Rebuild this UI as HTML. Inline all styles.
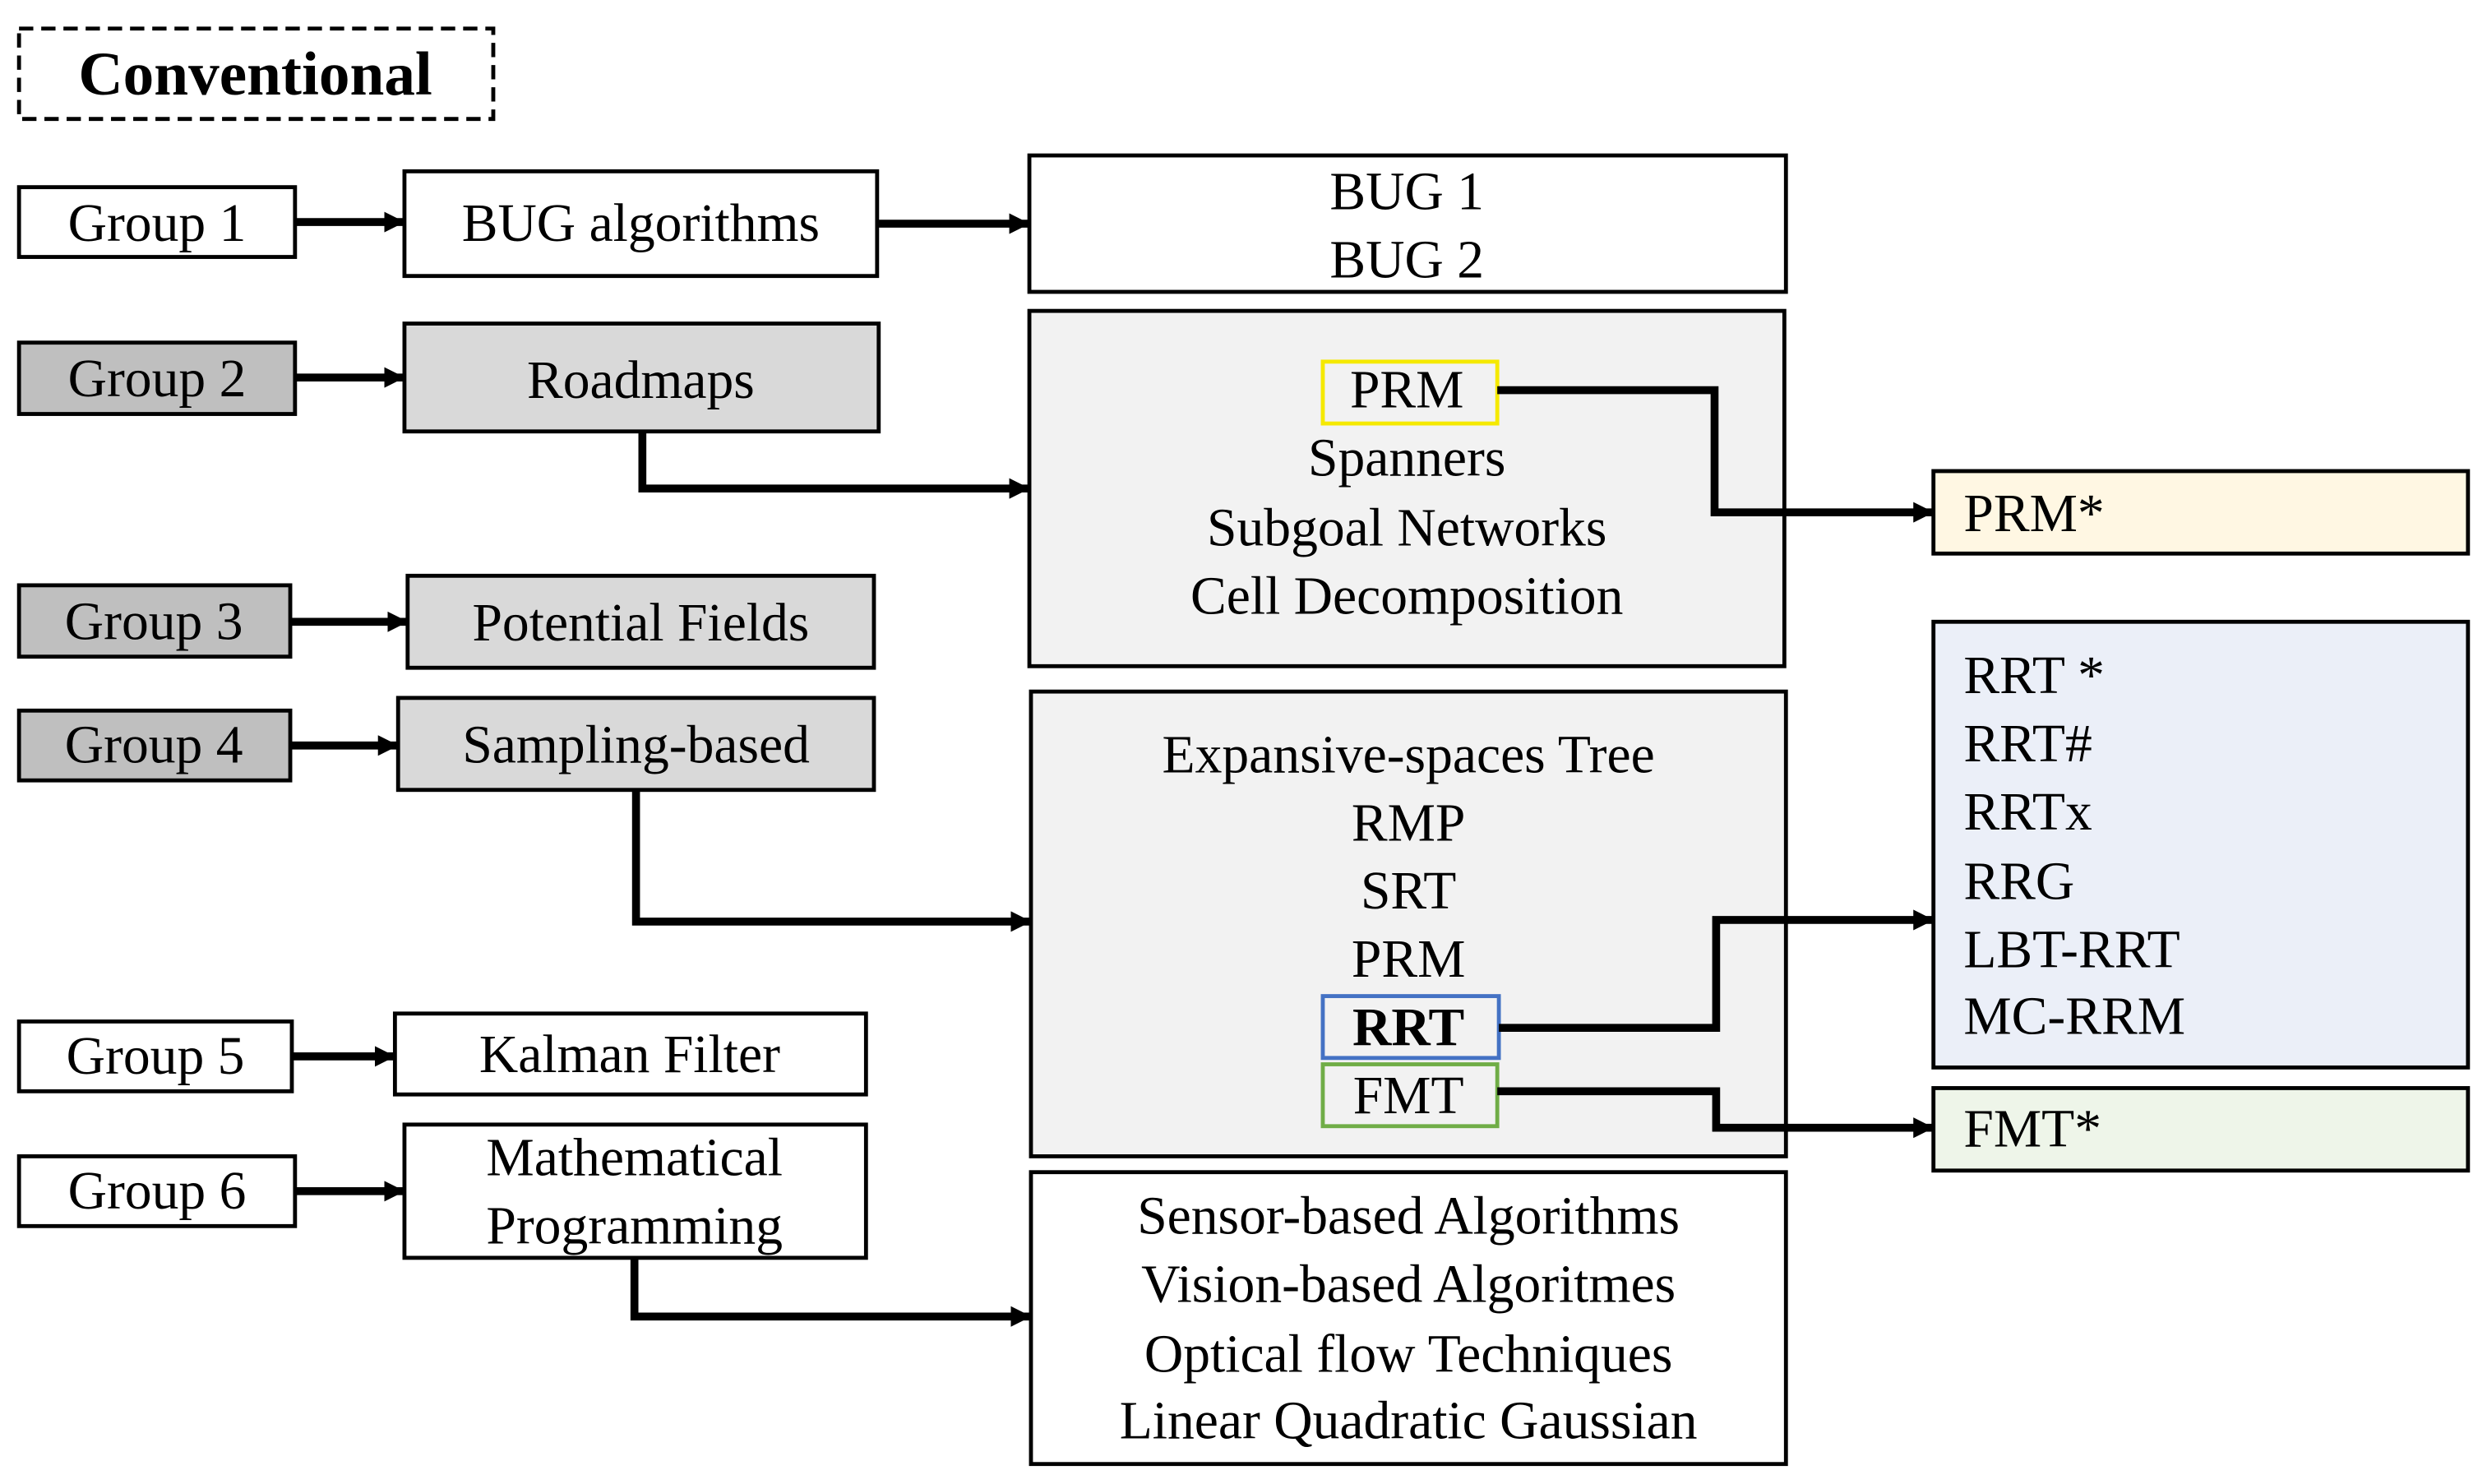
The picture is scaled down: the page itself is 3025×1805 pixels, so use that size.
<!DOCTYPE html>
<html><head><meta charset="utf-8"><style>
html,body{margin:0;padding:0;background:#fff}
svg{display:block}
text{font-family:"Liberation Serif","Times New Roman",serif;font-size:34px;fill:#000;dominant-baseline:central}
</style></head><body>
<svg width="3025" height="1805" viewBox="0 0 1568 935.6" preserveAspectRatio="none" xmlns="http://www.w3.org/2000/svg">
<defs><marker id="a" viewBox="0 0 10 10" refX="9" refY="5" markerWidth="2.6" markerHeight="2.6" orient="auto"><path d="M0,0L10,5L0,10z" fill="#000"/></marker></defs>
<g stroke="#000" stroke-width="2.5">
<rect x="12" y="18" width="299" height="57" fill="#fff" stroke-dasharray="9,5"/>
<rect x="12" y="118" width="174" height="44" fill="#fff"/>
<rect x="12" y="216" width="174" height="45" fill="#bfbfbf"/>
<rect x="12" y="369" width="171" height="45" fill="#bfbfbf"/>
<rect x="12" y="448" width="171" height="44" fill="#bfbfbf"/>
<rect x="12" y="644" width="172" height="44" fill="#fff"/>
<rect x="12" y="729" width="174" height="44" fill="#fff"/>
<rect x="255" y="108" width="298" height="66" fill="#fff"/>
<rect x="255" y="204" width="299" height="68" fill="#d9d9d9"/>
<rect x="257" y="363" width="294" height="58" fill="#d9d9d9"/>
<rect x="251" y="440" width="300" height="58" fill="#d9d9d9"/>
<rect x="249" y="639" width="297" height="51" fill="#fff"/>
<rect x="255" y="709" width="291" height="84" fill="#fff"/>
<rect x="649" y="98" width="477" height="86" fill="#fff"/>
<rect x="649" y="196" width="476" height="224" fill="#f2f2f2"/>
<rect x="650" y="436" width="476" height="293" fill="#f2f2f2"/>
<rect x="650" y="739" width="476" height="184" fill="#fff"/>
<rect x="1219" y="297" width="337" height="52" fill="#fff7e3"/>
<rect x="1219" y="392" width="337" height="281" fill="#ebeff8"/>
<rect x="1219" y="686" width="337" height="52" fill="#eef5e9"/>
</g>
<rect x="834" y="228" width="110" height="39" fill="none" stroke="#f5e900" stroke-width="2.5"/>
<rect x="834" y="628" width="111" height="39" fill="none" stroke="#4472c4" stroke-width="2.5"/>
<rect x="834" y="671" width="110" height="39" fill="none" stroke="#70ad47" stroke-width="2.5"/>
<g stroke="#000" stroke-width="5" fill="none" marker-end="url(#a)">
<path d="M186,140H254"/>
<path d="M186,238H254"/>
<path d="M183,392H256"/>
<path d="M183,470H250"/>
<path d="M184,666H248"/>
<path d="M186,751H254"/>
<path d="M553,141H648"/>
<path d="M405,272V308H648"/>
<path d="M401,498V581H649"/>
<path d="M400,793V830H649"/>
<path d="M944,246H1081V323H1218"/>
<path d="M945,648H1082V580H1218"/>
<path d="M944,688H1082V711H1218"/>
</g>
<text x="161" y="47" text-anchor="middle" font-weight="bold" style="font-size:39px">Conventional</text>
<g text-anchor="middle">
<text x="99" y="141">Group 1</text>
<text x="99" y="239">Group 2</text>
<text x="97" y="392">Group 3</text>
<text x="97" y="470">Group 4</text>
<text x="98" y="666">Group 5</text>
<text x="99" y="751">Group 6</text>
<text x="404" y="141">BUG algorithms</text>
<text x="404" y="240">Roadmaps</text>
<text x="404" y="393">Potential Fields</text>
<text x="401" y="470">Sampling-based</text>
<text x="397" y="665">Kalman Filter</text>
<text x="400" y="730">Mathematical</text>
<text x="400" y="773">Programming</text>
<text x="887" y="121">BUG 1</text>
<text x="887" y="164">BUG 2</text>
<text x="887" y="246">PRM</text>
<text x="887" y="289">Spanners</text>
<text x="887" y="333">Subgoal Networks</text>
<text x="887" y="376">Cell Decomposition</text>
<text x="888" y="476">Expansive-spaces Tree</text>
<text x="888" y="519">RMP</text>
<text x="888" y="562">SRT</text>
<text x="888" y="605">PRM</text>
<text x="888" y="648" font-weight="bold">RRT</text>
<text x="888" y="691">FMT</text>
<text x="888" y="767">Sensor-based Algorithms</text>
<text x="888" y="810">Vision-based Algoritmes</text>
<text x="888" y="854">Optical flow Techniques</text>
<text x="888" y="896">Linear Quadratic Gaussian</text>
</g>
<text x="1238" y="324">PRM*</text>
<text x="1238" y="426">RRT *</text>
<text x="1238" y="469">RRT#</text>
<text x="1238" y="512">RRTx</text>
<text x="1238" y="556">RRG</text>
<text x="1238" y="599">LBT-RRT</text>
<text x="1238" y="641">MC-RRM</text>
<text x="1238" y="712">FMT*</text>
</svg>
</body></html>
